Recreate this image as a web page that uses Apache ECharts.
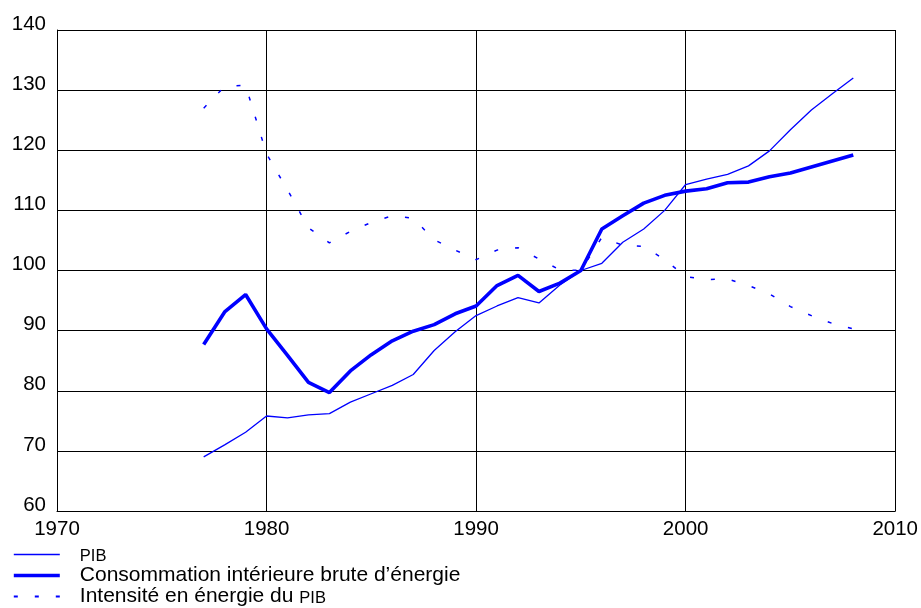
<!DOCTYPE html>
<html>
<head>
<meta charset="utf-8">
<script src="https://cdn.jsdelivr.net/npm/echarts@6/dist/echarts.min.js"></script>
<style>
html,body{margin:0;padding:0;background:#fff;}
#chart{width:921px;height:608px;}
</style>
</head>
<body>
<div id="chart"></div>
<script>
var years = [1977,1978,1979,1980,1981,1982,1983,1984,1985,1986,1987,1988,1989,1990,1991,1992,1993,1994,1995,1996,1997,1998,1999,2000,2001,2002,2003,2004,2005,2006,2007,2008];
var pib = [69.0,71.0,73.1,75.8,75.5,76.0,76.2,78.1,79.5,80.9,82.7,86.7,89.8,92.5,94.1,95.5,94.6,97.6,100,101.2,104.7,106.9,110.0,114.3,115.2,116.0,117.4,119.9,123.4,126.7,129.4,132.0];
var consommation = [87.7,93.1,96.0,90.3,85.9,81.4,79.7,83.3,86.0,88.3,89.9,91.0,92.8,94.1,97.5,99.2,96.5,97.9,100,106.9,109.1,111.2,112.5,113.2,113.6,114.6,114.7,115.6,116.2,117.2,118.2,119.2];
var intensite = [127.0,130.6,130.8,119.4,113.4,107.1,104.6,106.5,108.0,109.1,108.7,105.1,103.4,101.8,103.4,103.8,101.9,100.1,100,105.5,104.2,104.0,101.8,99.0,98.5,98.6,97.5,96.1,94.0,92.5,91.2,90.3];
var seriesNames = ['PIB','Consommation intérieure brute d\u2019énergie','Intensité en énergie du PIB'];

function pairs(vals){ return years.map(function(y,i){ return [y, vals[i]]; }); }

var chart = echarts.init(document.getElementById('chart'), null, {renderer:'canvas'});
var FONT = 'Liberation Sans, Arial, sans-serif';
chart.setOption({
  animation:false,
  backgroundColor:'#fff',
  grid:{left:57,right:25,top:30,bottom:97,containLabel:false},
  xAxis:{
    type:'value',min:1970,max:2010,interval:10,
    axisLine:{show:true,lineStyle:{color:'#000',width:1}},
    axisTick:{show:false},
    splitLine:{show:true,lineStyle:{color:'#000',width:1}},
    axisLabel:{color:'#000',fontFamily:FONT,fontSize:20.5,margin:8,formatter:function(v){return String(v);}}
  },
  yAxis:{
    type:'value',min:60,max:140,interval:10,
    axisLine:{show:true,lineStyle:{color:'#000',width:1}},
    axisTick:{show:false},
    splitLine:{show:true,lineStyle:{color:'#000',width:1}},
    axisLabel:{color:'#000',fontFamily:FONT,fontSize:20.5,margin:11,verticalAlign:'bottom',lineHeight:12}
  },
  legend:{
    orient:'vertical',left:12,top:544,height:80,padding:0,
    itemWidth:46,itemHeight:22,itemGap:0,
    data:[
      {name:seriesNames[0],lineStyle:{width:1.6}},
      {name:seriesNames[1],lineStyle:{width:3.6}},
      {name:seriesNames[2],lineStyle:{width:2}}
    ],
    itemStyle:{opacity:0},
    textStyle:{color:'#000',fontFamily:FONT,fontSize:21,lineHeight:21,padding:[0,0,0,15],
      rich:{s:{fontSize:16.5,lineHeight:17,fontFamily:FONT,color:'#000',verticalAlign:'middle',padding:[4,0,0,0]}}},
    formatter:function(n){ return n.replace('PIB','{s|PIB}'); }
  },
  series:[
    {name:seriesNames[0],type:'line',data:pairs(pib),symbol:'none',
      lineStyle:{color:'#0000ff',width:1.3},itemStyle:{color:'#0000ff'}},
    {name:seriesNames[1],type:'line',data:pairs(consommation),symbol:'none',
      lineStyle:{color:'#0000ff',width:3.6},itemStyle:{color:'#0000ff'}},
    {name:seriesNames[2],type:'line',data:pairs(intensite),symbol:'none',
      lineStyle:{color:'#0000ff',width:1.5,type:[4,17]},itemStyle:{color:'#0000ff'}}
  ]
});
</script>
</body>
</html>
